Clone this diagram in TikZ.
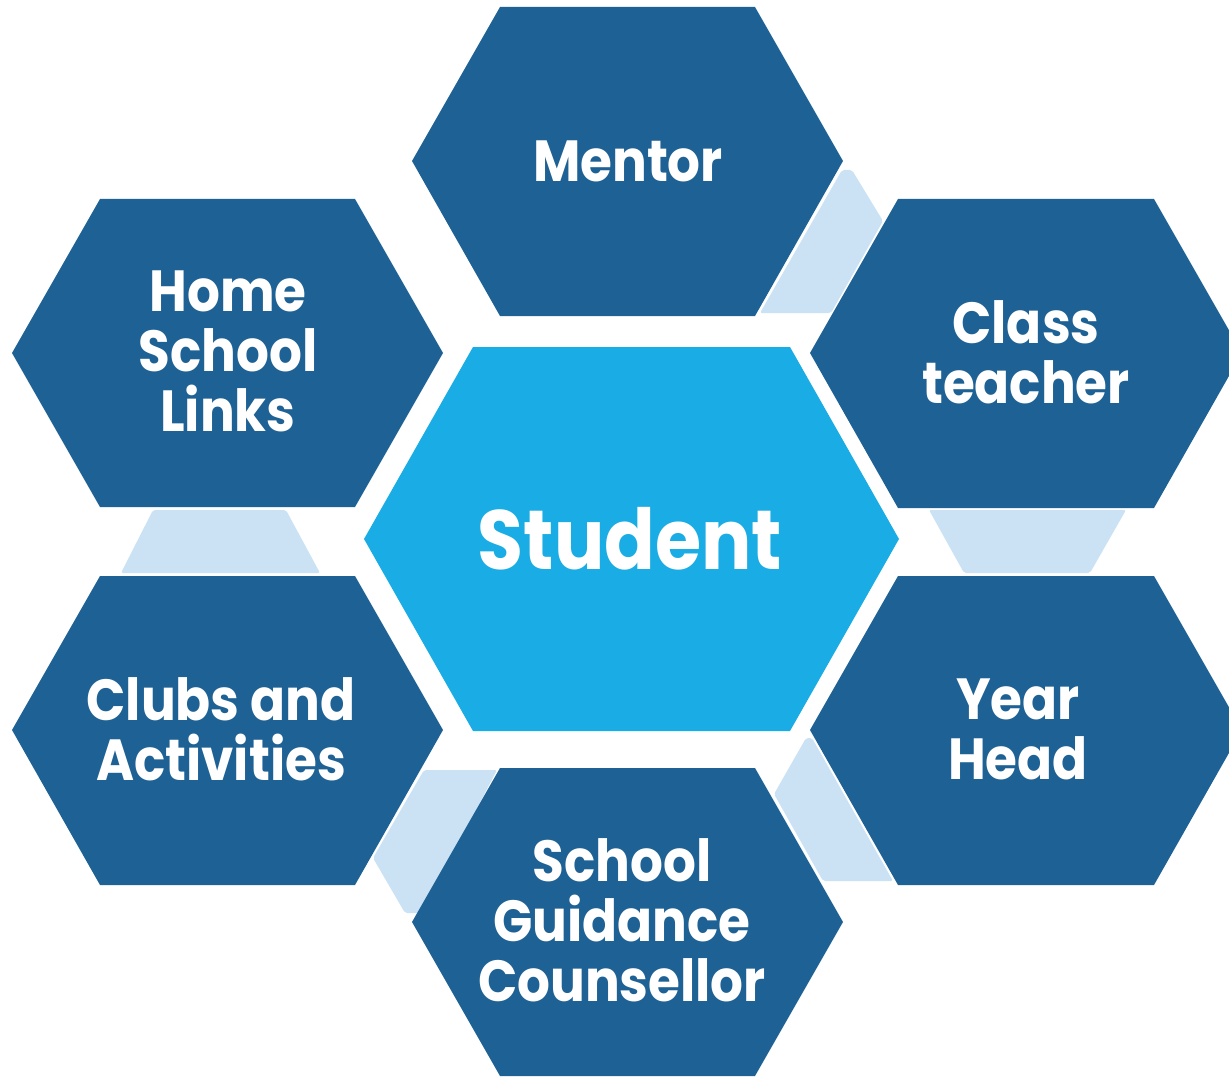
\documentclass[tikz,border=0pt]{standalone}
\usepackage{fontspec}
\setmainfont{Poppins}
\newfontfamily\cellfont{Poppins}[FakeStretch=0.89]
\definecolor{hexdark}{HTML}{1E6194}
\definecolor{hexmid}{HTML}{1AACE4}
\definecolor{hexlight}{HTML}{CBE2F4}
\tikzset{
  cell/.style={fill=hexdark},
  link/.style={fill=hexlight, rounded corners=2pt},
  celltext/.style={text=white, align=center, font=\cellfont\bfseries\fontsize{58}{60}\selectfont}
}
\begin{document}
\begin{tikzpicture}[x=1pt,y=-1pt]
\clip (0,0) rectangle (1229,1078);
% light links between the cells
\fill[link] (760,313) -- (842,170) -- (852,170) -- (883,221) -- (831,313) -- cycle;
\fill[link] (929,510) -- (1126,510) -- (1090,573) -- (964,573) -- cycle;
\fill[link] (153,510) -- (286,510) -- (320,573) -- (121,573) -- cycle;
\fill[link] (806,738) -- (812,738) -- (893,881) -- (823,881) -- (774,794) -- cycle;
\fill[link] (424,770) -- (497,770) -- (422,913) -- (405,913) -- (373,858) -- cycle;
% hexagon cells
\fill[cell] (500,7) -- (755,7) -- (843,161) -- (755,316) -- (500,316) -- (412,161) -- cycle;
\fill[cell] (898,199) -- (1154,199) -- (1242,353) -- (1154,508) -- (898,508) -- (810,353) -- cycle;
\fill[cell] (100,199) -- (355,199) -- (443,353) -- (355,507) -- (100,507) -- (12,353) -- cycle;
\fill[cell] (100,576) -- (355,576) -- (443,730) -- (355,885) -- (100,885) -- (12,730) -- cycle;
\fill[cell] (898,576) -- (1154,576) -- (1242,730) -- (1154,885) -- (898,885) -- (810,730) -- cycle;
\fill[cell] (500,768) -- (755,768) -- (843,922) -- (755,1076) -- (500,1076) -- (412,922) -- cycle;
\fill[fill=hexmid] (473,347) -- (790,347) -- (899,539) -- (790,731) -- (473,731) -- (364,539) -- cycle;
% labels
\node[celltext] (mentor) at (628,161) {Mentor};
\node[celltext] (classteacher) at (1026,352) {Class\\teacher};
\node[celltext] (homeschool) at (228,351) {Home\\School\\Links};
\node[celltext, font=\cellfont\bfseries\fontsize{84}{90}\selectfont] (student) at (630,539) {Student};
\node[celltext] (clubs) at (221,729) {Clubs and\\Activities};
\node[celltext] (yearhead) at (1018,729) {Year\\Head};
\node[celltext] (guidance) at (622,920) {School\\Guidance\\Counsellor};
\end{tikzpicture}
\end{document}
